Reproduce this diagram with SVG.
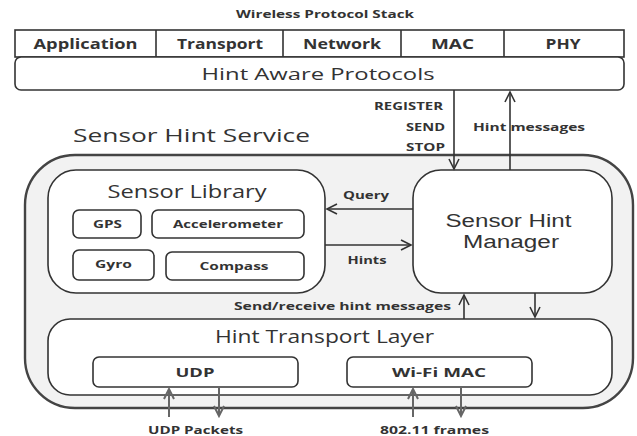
<svg xmlns="http://www.w3.org/2000/svg" width="637" height="436" viewBox="0 0 637 436">
  <style>
    text { font-family: "Open Sans", "Liberation Sans", sans-serif; fill: #333; text-anchor: middle; }
    .b { font-weight: bold; }
    .s10 { font-size: 10px; }
    .s11 { font-size: 11px; }
    .s12 { font-size: 12px; }
    .s14 { font-size: 14px; }
    .s17 { font-size: 17px; }
    .s18 { font-size: 18px; }
    .s19 { font-size: 19px; }
    .tight { font-family: "Liberation Sans", "Open Sans", sans-serif; }
    .end { text-anchor: end; }
    .start { text-anchor: start; }
    .box { fill: #fff; stroke: #333; stroke-width: 1.6; }
    .outer { fill: #f2f2f2; stroke: #444; stroke-width: 2.4; }
    .wire { fill: none; stroke: #333; stroke-width: 1.6; }
    .ext { fill: none; stroke: #666; stroke-width: 2; }
  </style>
  <defs>
    <marker id="head" markerUnits="userSpaceOnUse" markerWidth="14" markerHeight="12" viewBox="-12 -6 14 12" refX="0" refY="0" orient="auto">
      <path d="M-10,-5 L0,0 L-10,5" fill="none" stroke="#333" stroke-width="1.6"/>
    </marker>
    <marker id="headExt" markerUnits="userSpaceOnUse" markerWidth="14" markerHeight="12" viewBox="-12 -6 14 12" refX="0" refY="0" orient="auto">
      <path d="M-10,-5 L0,0 L-10,5" fill="none" stroke="#666" stroke-width="2"/>
    </marker>
  </defs>

  <text id="stack-title" class="b s10" x="325" y="18" textLength="178" lengthAdjust="spacingAndGlyphs">Wireless Protocol Stack</text>

  <!-- protocol stack layers -->
  <g id="stack">
    <rect class="box" x="15" y="30" width="609" height="27"/>
    <path class="wire" d="M156,30 V57 M283,30 V57 M401,30 V57 M504,30 V57"/>
    <text class="b s14" x="85.5" y="49" textLength="104" lengthAdjust="spacingAndGlyphs">Application</text>
    <text class="b s14" x="220" y="49" textLength="86" lengthAdjust="spacingAndGlyphs">Transport</text>
    <text class="b s14" x="342" y="49" textLength="78" lengthAdjust="spacingAndGlyphs">Network</text>
    <text class="b s14" x="452.5" y="49" textLength="43" lengthAdjust="spacingAndGlyphs">MAC</text>
    <text class="b s14" x="563" y="49" textLength="35" lengthAdjust="spacingAndGlyphs">PHY</text>
  </g>

  <g id="hint-aware">
    <rect class="box" x="15" y="57" width="609" height="33" rx="6"/>
    <text class="s17" x="318" y="80" textLength="233" lengthAdjust="spacingAndGlyphs">Hint Aware Protocols</text>
  </g>

  <text id="service-title" class="s19" x="191.5" y="142" textLength="237" lengthAdjust="spacingAndGlyphs">Sensor Hint Service</text>

  <!-- service container -->
  <g id="service">
    <rect class="outer" x="25" y="155" width="608" height="253" rx="50"/>
  </g>

  <g id="sensor-library">
    <rect class="box" x="48" y="170" width="277" height="123" rx="28"/>
    <text class="s18" x="187" y="198" textLength="159" lengthAdjust="spacingAndGlyphs">Sensor Library</text>
  </g>
  <g id="gps">
    <rect class="box" x="73" y="210" width="68" height="28" rx="6"/>
    <text class="b s11" x="107.5" y="228" textLength="29" lengthAdjust="spacingAndGlyphs">GPS</text>
  </g>
  <g id="accelerometer">
    <rect class="box" x="152" y="210" width="152" height="28" rx="6"/>
    <text class="b s11" x="228" y="228" textLength="110" lengthAdjust="spacingAndGlyphs">Accelerometer</text>
  </g>
  <g id="gyro">
    <rect class="box" x="73" y="250" width="81" height="30" rx="6"/>
    <text class="b s11" x="113.5" y="268" textLength="37" lengthAdjust="spacingAndGlyphs">Gyro</text>
  </g>
  <g id="compass">
    <rect class="box" x="166" y="252" width="138" height="28" rx="6"/>
    <text class="b s11" x="234" y="270" textLength="69" lengthAdjust="spacingAndGlyphs">Compass</text>
  </g>

  <g id="manager">
    <rect class="box" x="413" y="170" width="199" height="123" rx="28"/>
    <text class="s18 tight">
      <tspan x="511" y="227" textLength="126" lengthAdjust="spacingAndGlyphs">Sensor Hint</tspan>
      <tspan x="511" y="248" textLength="96" lengthAdjust="spacingAndGlyphs">Manager</tspan>
    </text>
  </g>

  <g id="transport">
    <rect class="box" x="48" y="319" width="564" height="76" rx="22"/>
    <text class="s18" x="324.5" y="343" textLength="219" lengthAdjust="spacingAndGlyphs">Hint Transport Layer</text>
  </g>
  <g id="udp">
    <rect class="box" x="93" y="357" width="205" height="30" rx="6"/>
    <text class="b s12" x="195" y="377" textLength="39" lengthAdjust="spacingAndGlyphs">UDP</text>
  </g>
  <g id="wifi-mac">
    <rect class="box" x="347" y="357" width="185" height="30" rx="6"/>
    <text class="b s12" x="439" y="377" textLength="94" lengthAdjust="spacingAndGlyphs">Wi-Fi MAC</text>
  </g>

  <!-- connectors -->
  <g id="connectors">
    <path class="wire" d="M454,90 V169" marker-end="url(#head)"/>
    <path class="wire" d="M510,170 V92" marker-end="url(#head)"/>
    <path class="wire" d="M413,209 H327" marker-end="url(#head)"/>
    <path class="wire" d="M325,245 H411" marker-end="url(#head)"/>
    <path class="wire" d="M464,319 V295" marker-end="url(#head)"/>
    <path class="wire" d="M535,293 V317" marker-end="url(#head)"/>
    <path class="ext" d="M169,417 V389" marker-end="url(#headExt)"/>
    <path class="ext" d="M219,387 V416" marker-end="url(#headExt)"/>
    <path class="ext" d="M413,417 V389" marker-end="url(#headExt)"/>
    <path class="ext" d="M461,387 V416" marker-end="url(#headExt)"/>
  </g>

  <!-- connector labels -->
  <g id="labels">
    <text class="b s10 end" x="443" y="110" textLength="69" lengthAdjust="spacingAndGlyphs">REGISTER</text>
    <text class="b s10 end" x="445" y="131" textLength="39" lengthAdjust="spacingAndGlyphs">SEND</text>
    <text class="b s10 end" x="445" y="151" textLength="39" lengthAdjust="spacingAndGlyphs">STOP</text>
    <text class="b s10 start" x="473" y="131" textLength="112" lengthAdjust="spacingAndGlyphs">Hint messages</text>
    <text class="b s10" x="366" y="199" textLength="46" lengthAdjust="spacingAndGlyphs">Query</text>
    <text class="b s10" x="367" y="264" textLength="39" lengthAdjust="spacingAndGlyphs">Hints</text>
    <text class="b s10 end" x="451" y="310" textLength="217" lengthAdjust="spacingAndGlyphs">Send/receive hint messages</text>
    <text class="b s10" x="195.5" y="434" textLength="95" lengthAdjust="spacingAndGlyphs">UDP Packets</text>
    <text class="b s10" x="434.5" y="434" textLength="109" lengthAdjust="spacingAndGlyphs">802.11 frames</text>
  </g>
</svg>
